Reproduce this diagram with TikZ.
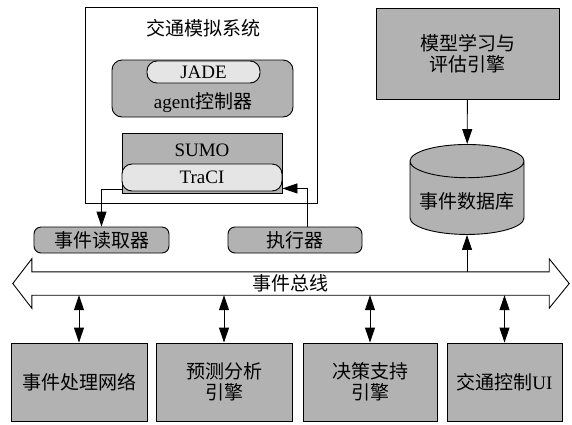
\documentclass[tikz,border=0pt]{standalone}
\usepackage{fontspec}
\setmainfont{Noto Sans CJK SC}
\newfontfamily\lat{Liberation Serif}
\usetikzlibrary{arrows.meta,shapes.geometric}
\tikzset{
  box/.style={draw,line width=0.9pt,fill=gray!60,inner sep=0pt},
  rbox/.style={box,rounded corners=7pt},
  lbox/.style={draw,line width=0.9pt,fill=gray!20,rounded corners=10pt,inner sep=0pt},
  arr/.style={line width=0.9pt,-{Triangle[length=15pt,width=10pt]}},
  dblarr/.style={line width=0.9pt,{Triangle[length=15pt,width=10pt]}-{Triangle[length=15pt,width=10pt]}}
}
\begin{document}
\begin{tikzpicture}[x=1pt,y=-1pt,font=\fontsize{19}{21}\selectfont]
\useasboundingbox (0,0) rectangle (572,424);
\node[draw,line width=0.9pt,minimum width=232pt,minimum height=196pt] (sim) at (201,105) {};
\node (simtitle) at (203,28) {交通模拟系统};
\node[rbox,rounded corners=10pt,minimum width=181pt,minimum height=57pt] (agent) at (202.5,88.5) {};
\node[lbox,minimum width=113pt,minimum height=22pt] (jade) at (203.5,72) {\lat JADE};
\node (agenttxt) at (203,103) {{\lat agent}控制器};
\node[box,minimum width=160pt,minimum height=60pt] (sumo) at (202,163) {};
\node (sumotxt) at (202,150) {\lat SUMO};
\node[lbox,minimum width=160pt,minimum height=27pt] (traci) at (202,177.5) {\lat TraCI};
\node[rbox,minimum width=135pt,minimum height=26pt] (reader) at (101.5,240) {事件读取器};
\node[rbox,minimum width=134pt,minimum height=26pt] (exec) at (295,240) {执行器};
\node[box,minimum width=183pt,minimum height=91pt,align=center] (model) at (467.5,53.5) {模型学习与\\评估引擎};
\node[cylinder,shape border rotate=90,draw,line width=0.9pt,fill=gray!60,inner sep=0pt,
  minimum width=114pt,minimum height=90pt,aspect=0.35] (db) at (467,198) {\raisebox{-10pt}[0pt][0pt]{事件数据库}};
\node[minimum width=517pt,minimum height=23pt,inner sep=0pt] (bus) at (290.5,283.5) {事件总线};
\draw[line width=0.9pt] (bus.north west) -- ([yshift=13pt]bus.north west) -- ([xshift=-19pt]bus.west)
  -- ([yshift=-13pt]bus.south west) -- (bus.south west) -- (bus.south east)
  -- ([yshift=-13pt]bus.south east) -- ([xshift=20pt]bus.east) -- ([yshift=13pt]bus.north east)
  -- (bus.north east) -- cycle;
\node[box,minimum width=136pt,minimum height=78pt] (proc) at (79,382) {事件处理网络};
\node[box,minimum width=136pt,minimum height=78pt,align=center] (pred) at (224,382) {预测分析\\引擎};
\node[box,minimum width=134pt,minimum height=78pt,align=center] (dec) at (370,382) {决策支持\\引擎};
\node[box,minimum width=115pt,minimum height=78pt] (ui) at (504.5,382) {交通控制{\lat UI}};
\draw[arr] (model) -- (db);
\draw[arr] (bus.north -| db) -- (db);
\draw[arr] ([yshift=2pt]traci.south west) -| (reader);
\draw[arr] ([xshift=12pt]exec.north) |- ([yshift=3pt]traci.south east);
\foreach \b in {proc,pred,dec,ui}
	\draw[dblarr] (bus.south -| \b) -- (\b);
\end{tikzpicture}
\end{document}
